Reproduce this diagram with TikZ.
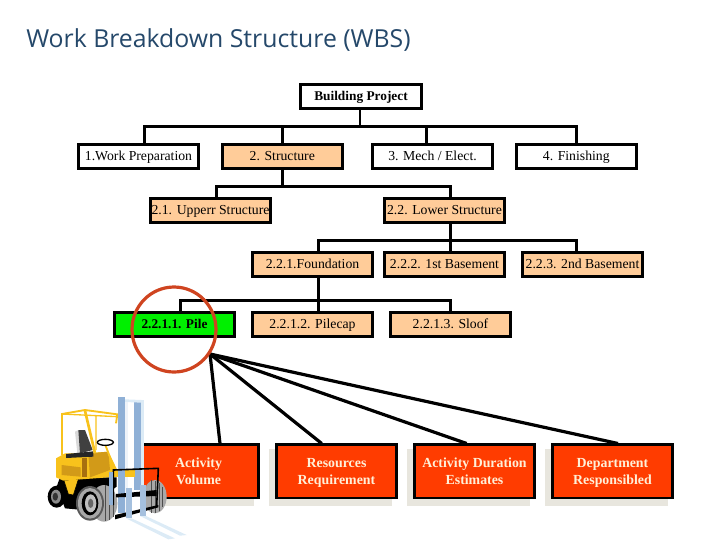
\documentclass[tikz,border=0pt]{standalone}
\usepackage{fontspec}
\setmainfont{Liberation Serif}
\newfontfamily\titlefont{Open Sans}
\definecolor{titleblue}{HTML}{25486A}
\definecolor{peach}{HTML}{FFCC99}
\definecolor{pilegreen}{HTML}{00F000}
\definecolor{taskred}{HTML}{FF3C00}
\definecolor{taskshadow}{HTML}{E8E6DE}
\definecolor{ringred}{HTML}{CF4420}
\definecolor{taskfont}{HTML}{FFF0D8}
\definecolor{forkyellow}{HTML}{F8C21C}
\definecolor{forkdark}{HTML}{D29A18}
\definecolor{forkbrown}{HTML}{A8700F}
\definecolor{mastblue}{HTML}{8FB0D6}
\definecolor{mastpale}{HTML}{DCEBF6}
\definecolor{tyregrey}{HTML}{A8A8A8}
\tikzset{
  wbsbox/.style={draw=black, line width=2.2pt, fill=white, minimum width=90.3pt, minimum height=17.6pt,
    inner sep=0pt, text height=8.2pt, text depth=1.8pt, font=\fontsize{10.3}{12}\selectfont},
  wbspeach/.style={wbsbox, fill=peach},
  wbsbold/.style={font=\fontsize{10}{12}\selectfont\bfseries},
  taskbox/.style={draw=black, line width=2.2pt, fill=taskred, minimum width=90.3pt, minimum height=40pt,
    inner sep=0pt, align=center, text=taskfont, font=\fontsize{10.4}{12.75}\selectfont\bfseries},
  wbsline/.style={black, line width=2.2pt},
  taskline/.style={black, line width=2.4pt},
}
\begin{document}
\begin{tikzpicture}[x=0.75pt,y=-0.75pt]
  \useasboundingbox (0,0) rectangle (720,540);
  \node[anchor=west, inner sep=0pt, text=titleblue, font=\titlefont\fontsize{18.6}{22}\selectfont] (title) at (26,40) {Work Breakdown Structure (WBS)};

  \node[wbsbox, wbsbold] (root) at (361,96.3) {Building Project};
  \node[wbsbox] (prep) at (138.5,156.3) {1.Work Preparation};
  \node[wbspeach] (struct) at (282.3,156.3) {2. Structure};
  \node[wbsbox] (mech) at (432.5,156.3) {3. Mech / Elect.};
  \node[wbsbox] (finish) at (576.3,156.3) {4. Finishing};
  \node[wbspeach] (upper) at (210.5,210.3) {2.1. Upperr Structure};
  \node[wbspeach] (lower) at (444.5,210.3) {2.2. Lower Structure};
  \node[wbspeach] (found) at (312.5,264.5) {2.2.1.Foundation};
  \node[wbspeach] (first) at (444.5,264.5) {2.2.2. 1st Basement};
  \node[wbspeach] (second) at (582.5,264.5) {2.2.3. 2nd Basement};
  \node[wbsbox, wbsbold, fill=pilegreen] (pile) at (174.5,324.5) {2.2.1.1. Pile};
  \node[wbspeach] (pilecap) at (312.5,324.5) {2.2.1.2. Pilecap};
  \node[wbspeach] (sloof) at (450.5,324.5) {2.2.1.3. Sloof};

  \coordinate (busroot) at (360,126.3);
  \coordinate (busa) at (144.3,126.3);
  \coordinate (busb) at (426.3,126.3);
  \coordinate (busz) at (576.7,126.3);
  \coordinate (busc) at (216.3,186.7);
  \coordinate (busd) at (450.7,186.7);
  \coordinate (buse) at (318.3,240.3);
  \coordinate (busf) at (576.7,240.3);
  \coordinate (busg) at (180.3,300.3);
  \coordinate (hub) at (210,354);

  \draw[wbsline] (busroot |- root.south) -- (busroot);
  \draw[wbsline, line cap=rect] (busa |- prep.north) -- (busa) -- (busz) -- (busz |- finish.north);
  \draw[wbsline] (struct.north) -- (struct.north |- busa);
  \draw[wbsline] (busb) -- (busb |- mech.north);
  \draw[wbsline] (struct.south) -- (struct.south |- busc);
  \draw[wbsline, line cap=rect] (busc |- upper.north) -- (busc) -- (busd) -- (busd |- lower.north);
  \draw[wbsline] (busd |- lower.south) -- (busd |- first.north);
  \draw[wbsline, line cap=rect] (buse |- found.north) -- (buse) -- (busf) -- (busf |- second.north);
  \draw[wbsline] (buse |- found.south) -- (buse |- pilecap.north);
  \draw[wbsline, line cap=rect] (busg |- pile.north) -- (busg) -- (busd |- busg) -- (busd |- sloof.north);

  \foreach \px/\pname/\ptext in {198.5/vol/Activity\\Volume, 336.5/res/Resources\\Requirement,
      474.5/dur/Activity Duration\\Estimates, 612.5/dept/Department\\Responsibled} {
    \fill[taskshadow] (\px-61.5-6,449) rectangle (\px+61.5-6,505.7);
    \node[taskbox] (\pname) at (\px,471.3) {\rule{0pt}{11.6pt}\ptext\strut};
  }
  \draw[taskline] (hub) -- (220,443.5);
  \draw[taskline] (hub) -- (321.7,443.5);
  \draw[taskline] (hub) -- (466.7,443.5);
  \draw[taskline] (hub) -- (618,443.5);

  \draw[ringred, line width=2.4pt] (174,329.5) ellipse (42 and 42.5);

  % forklift
  \fill[white] (100,430) rectangle (143.5,510);
  \begin{scope}[shift={(40,390)},x=0.25pt,y=-0.25pt]
    \fill[tyregrey] (345,320) ellipse (35 and 50);
    \draw[black!70, line width=0.5pt] (335,270) -- (335,370) (345,272) -- (345,368) (358,278) -- (358,362) (368,290) -- (368,350);
    \fill[mastblue] (282,35) rectangle (303,300);
    \fill[mastpale] (303,30) rectangle (312,290);
    \fill[mastpale] (255,28) -- (305,30) -- (305,38) -- (255,36) -- cycle;
    \fill[white!85!mastblue] (255,36) rectangle (265,370);
    \fill[black] (50,290) -- (75,355) -- (130,360) -- (230,290) -- (230,262) -- (60,262) -- cycle;
    \fill[forkyellow] (48,205) -- (75,190) -- (140,190) -- (205,185) -- (232,240) -- (205,262) -- (70,272) -- (48,262) -- cycle;
    \fill[forkyellow] (222,240) rectangle (285,262);
    \fill[forkyellow] (72,272) -- (115,268) -- (100,315) -- (85,312) -- cycle;
    \draw[black, line width=0.4pt] (72,272) -- (85,312) -- (100,315) -- (115,268);
    \fill[forkdark] (65,225) -- (122,232) -- (122,260) -- (65,255) -- cycle;
    \fill[forkbrown] (125,205) -- (142,205) -- (142,262) -- (125,262) -- cycle;
    \fill[forkdark] (145,190) -- (205,185) -- (210,240) -- (150,262) -- cycle;
    \fill[black!15] (105,125) -- (115,120) -- (125,190) -- (112,190) -- cycle;
    \fill[black!75] (115,120) -- (135,120) -- (158,180) -- (120,190) -- cycle;
    \fill[black!85] (78,192) -- (160,184) -- (160,200) -- (78,204) -- cycle;
    \draw[forkyellow, line width=1.4pt] (66,195) -- (66,72) -- (135,60) -- (232,73) -- (228,100);
    \draw[forkyellow, line width=1pt] (66,72) -- (232,80) (168,75) -- (168,180);
    \draw[forkyellow, line width=2pt] (135,62) -- (165,190);
    \draw[forkyellow, line width=1.4pt] (196,165) -- (215,215);
    \draw[black, line width=1pt] (196,157) ellipse (24 and 9);
    \fill[mastblue] (233,22) rectangle (255,370);
    \fill[black] (50,320) ellipse (27 and 33);
    \fill[black!45] (48,320) ellipse (15 and 21);
    \fill[black!80] (46,320) ellipse (8 and 12);
    \fill[tyregrey] (192,340) ellipse (40 and 55);
    \draw[black!70, line width=0.5pt] (195,286) -- (195,394) (208,290) -- (208,390) (220,300) -- (220,380);
    \fill[black!65] (150,340) ellipse (42 and 52);
    \fill[tyregrey] (150,340) ellipse (36 and 46);
    \fill[black] (150,340) ellipse (25 and 36);
    \fill[black!25] (152,340) ellipse (17 and 27);
    \fill[black!60] (152,340) ellipse (8 and 14);
    \fill[mastblue] (233,330) rectangle (255,370);
    \fill[black] (228,312) -- (350,300) -- (350,318) -- (228,322) -- cycle;
    \fill[black] (225,375) -- (355,345) -- (355,352) -- (225,388) -- cycle;
    \draw[black, line width=1.2pt] (220,345) -- (220,240) -- (355,235) -- (350,350);
    \fill[mastblue] (208,245) rectangle (219,345);
    \fill[mastpale] (258,385) -- (275,385) -- (405,445) -- (385,448) -- cycle;
    \fill[mastpale] (300,378) -- (318,378) -- (440,435) -- (420,437) -- cycle;
    \fill[mastblue!80!white] (258,295) -- (275,295) -- (275,385) -- (258,385) -- cycle;
    \fill[mastblue!80!white] (300,285) -- (318,285) -- (318,378) -- (300,378) -- cycle;
  \end{scope}
\end{tikzpicture}
\end{document}
